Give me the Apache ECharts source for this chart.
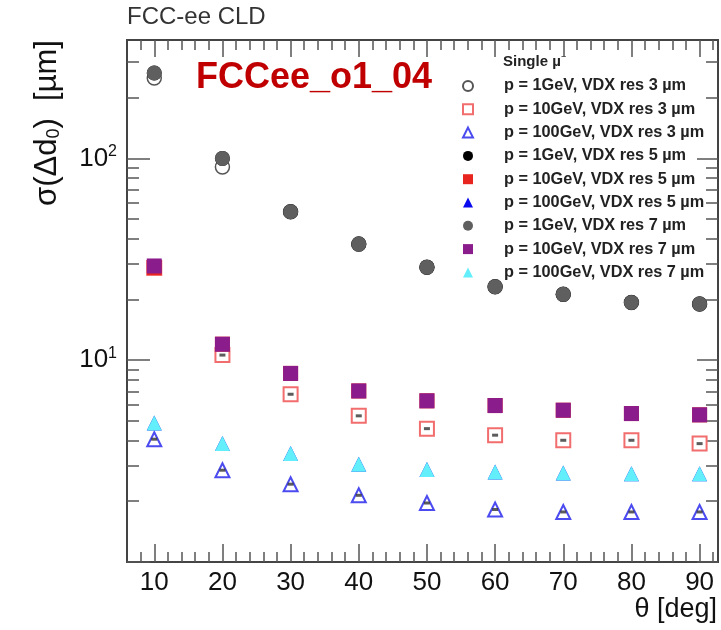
<!DOCTYPE html>
<html>
<head>
<meta charset="utf-8">
<script src="https://cdn.jsdelivr.net/npm/echarts@6/dist/echarts.min.js"></script>
<style>
  html, body { margin: 0; padding: 0; background: #fff; }
  #chart { width: 721px; height: 630px; }
</style>
</head>
<body>
<div id="chart"></div>
<script>
  // theta [deg]
  const theta = [10, 20, 30, 40, 50, 60, 70, 80, 90]

  // sigma(delta d0) [um], p = 1 GeV
  const p1_res3 = [250, 90.6, 54.4, 37.6, 28.9, 23.1, 21.2, 19.3, 19.0]
  const p1_res5 = [265, 100, 54.4, 37.6, 28.9, 23.1, 21.2, 19.3, 19.0]
  const p1_res7 = [265, 100, 54.4, 37.6, 28.9, 23.1, 21.2, 19.3, 19.0]
  // p = 10 GeV
  const p10_res3 = [28.6, 10.6, 6.78, 5.30, 4.58, 4.25, 4.01, 4.01, 3.86]
  const p10_res5 = [28.8, 12.0, 8.6, 7.04, 6.29, 5.96, 5.65, 5.44, 5.36]
  const p10_res7 = [29.3, 12.0, 8.6, 7.04, 6.29, 5.96, 5.65, 5.44, 5.36]
  // p = 100 GeV
  const p100_res3 = [4.06, 2.85, 2.43, 2.14, 1.96, 1.82, 1.77, 1.77, 1.77]
  const p100_res5 = [4.89, 3.86, 3.45, 3.05, 2.87, 2.79, 2.76, 2.74, 2.74]
  const p100_res7 = [4.89, 3.86, 3.45, 3.05, 2.87, 2.79, 2.76, 2.74, 2.74]

  // ticks
  const xMajorTicks = [10, 20, 30, 40, 50, 60, 70, 80, 90]
  const xMinorTicks = [8, 12, 14, 16, 18, 22, 24, 26, 28, 32, 34, 36, 38, 42, 44, 46, 48,
    52, 54, 56, 58, 62, 64, 66, 68, 72, 74, 76, 78, 82, 84, 86, 88, 92]
  const yMajorTicks = [1, 10, 100]
  const yLabelTicks = [10, 100]
  const yMinorTicks = [2, 3, 4, 5, 6, 7, 8, 9, 20, 30, 40, 50, 60, 70, 80, 90, 200, 300]

  const X_MIN = 6, X_MAX = 92.7
  const Y_MIN = 1, Y_MAX = 386

  const chart = echarts.init(document.getElementById('chart'))

  const pts = vals => theta.map((t, i) => [t, vals[i]])
  const clear = 'rgba(255,255,255,0)'

  const markers = [
    { name: 'p = 1GeV, VDX res 3 µm', data: p1_res3, symbol: 'circle', size: 14, fill: clear, border: '#555', bw: 1.5 },
    { name: 'p = 10GeV, VDX res 3 µm', data: p10_res3, symbol: 'rect', size: 14, fill: clear, border: '#f26d6d', bw: 2 },
    { name: 'p = 100GeV, VDX res 3 µm', data: p100_res3, symbol: 'triangle', size: 14, fill: clear, border: '#4b4bf0', bw: 2 },
    { name: 'p = 1GeV, VDX res 5 µm', data: p1_res5, symbol: 'circle', size: 15, fill: '#000' },
    { name: 'p = 10GeV, VDX res 5 µm', data: p10_res5, symbol: 'rect', size: 15, fill: '#e8261f' },
    { name: 'p = 100GeV, VDX res 5 µm', data: p100_res5, symbol: 'triangle', size: 15, fill: '#0a0aee' },
    { name: 'p = 1GeV, VDX res 7 µm', data: p1_res7, symbol: 'circle', size: 15, fill: '#5f5f5f' },
    { name: 'p = 10GeV, VDX res 7 µm', data: p10_res7, symbol: 'rect', size: 15, fill: '#8b1c8b' },
    { name: 'p = 100GeV, VDX res 7 µm', data: p100_res7, symbol: 'triangle', size: 15, fill: '#62eefa' }
  ]

  const series = []
  markers.forEach((m, i) => {
    series.push({
      name: m.name,
      type: 'scatter',
      data: pts(m.data),
      symbol: m.symbol,
      symbolSize: m.size,
      itemStyle: { color: m.fill, borderColor: m.border || m.fill, borderWidth: m.bw || 0, opacity: 1 },
      emphasis: { disabled: true },
      animation: false
    })
    // small error-bar marks inside the open markers
    if (i === 1 || i === 2) {
      series.push({
        name: 'err' + i,
        type: 'scatter',
        data: pts(m.data),
        symbol: 'rect',
        symbolSize: [6, 3],
        itemStyle: { color: '#333' },
        emphasis: { disabled: true },
        animation: false
      })
    }
  })

  const frame = { show: true, onZero: false, lineStyle: { color: '#444', width: 2 } }
  const tickStyle = { color: '#555', width: 1.5 }

  const xAxisDef = (pos, len, ticks, labels) => ({
    type: 'value', position: pos, min: X_MIN, max: X_MAX,
    axisLine: frame,
    axisTick: { show: true, inside: true, length: len, customValues: ticks, lineStyle: tickStyle },
    axisLabel: labels ? {
      show: true, customValues: xMajorTicks, margin: 8,
      fontFamily: 'Liberation Sans', fontSize: 26, color: '#111'
    } : { show: false },
    splitLine: { show: false }
  })

  const yAxisDef = (pos, len, ticks, labels) => ({
    type: 'log', logBase: 10, position: pos, min: Y_MIN, max: Y_MAX,
    axisLine: frame,
    axisTick: { show: true, inside: true, length: len, customValues: ticks, lineStyle: tickStyle },
    axisLabel: labels ? {
      show: true, customValues: yLabelTicks, margin: 10,
      fontFamily: 'Liberation Sans', fontSize: 26, color: '#111',
      formatter: v => '10{sup|' + Math.round(Math.log10(v)) + '}',
      rich: { sup: { fontFamily: 'Liberation Sans', fontSize: 16, color: '#111', padding: [0, 0, 14, 0] } }
    } : { show: false },
    splitLine: { show: false }
  })

  chart.setOption({
    backgroundColor: '#fff',
    animation: false,
    grid: { left: 127, right: 3, top: 40, bottom: 68 },
    xAxis: [
      xAxisDef('bottom', 18, xMajorTicks, true),
      xAxisDef('bottom', 10, xMinorTicks, false),
      xAxisDef('top', 17, xMajorTicks, false),
      xAxisDef('top', 10, xMinorTicks, false)
    ],
    yAxis: [
      yAxisDef('left', 23, yMajorTicks, true),
      yAxisDef('left', 12, yMinorTicks, false),
      yAxisDef('right', 21, yMajorTicks, false),
      yAxisDef('right', 12, yMinorTicks, false)
    ],
    legend: {
      data: markers.map(m => m.name),
      orient: 'vertical',
      left: 457,
      top: 73,
      itemWidth: 10,
      itemHeight: 10,
      itemGap: 7.3,
      selectedMode: false,
      textStyle: {
        fontFamily: 'Liberation Sans', fontWeight: 'bold', fontSize: 16.3, color: '#222',
        padding: [0, 0, 0, 26]
      }
    },
    graphic: [
      {
        type: 'text', x: 127, y: 17,
        style: { text: 'FCC-ee CLD', font: '24px "Liberation Sans"', fill: '#333', textVerticalAlign: 'middle' }
      },
      {
        type: 'text', x: 196, y: 78,
        style: { text: 'FCCee_o1_04', font: 'bold 36px "Liberation Sans"', fill: '#c00000', textVerticalAlign: 'middle' }
      },
      {
        type: 'text', x: 503, y: 62,
        style: {
          text: '{a|Single µ}{s|⁻}',
          textVerticalAlign: 'middle',
          rich: {
            a: { fontFamily: 'Liberation Sans', fontWeight: 'bold', fontSize: 15, fill: '#222' },
            s: { fontFamily: 'DejaVu Sans', fontWeight: 'bold', fontSize: 11, fill: '#222', padding: [0, 0, 6, 0] }
          }
        }
      },
      {
        type: 'text', x: 47, y: 123, rotation: Math.PI / 2,
        style: {
          text: '{a|σ(Δd}{b|0}{a|)  [µm]}',
          textAlign: 'center', textVerticalAlign: 'middle',
          rich: {
            a: { fontFamily: 'Liberation Sans', fontSize: 31, fill: '#111' },
            b: { fontFamily: 'Liberation Sans', fontSize: 18, fill: '#111', padding: [14, 0, 0, 0] }
          }
        }
      },
      {
        type: 'text', x: 717, y: 610,
        style: { text: 'θ [deg]', font: '27px "Liberation Sans"', fill: '#111', textAlign: 'right', textVerticalAlign: 'middle' }
      }
    ],
    series: series
  })
</script>
</body>
</html>
